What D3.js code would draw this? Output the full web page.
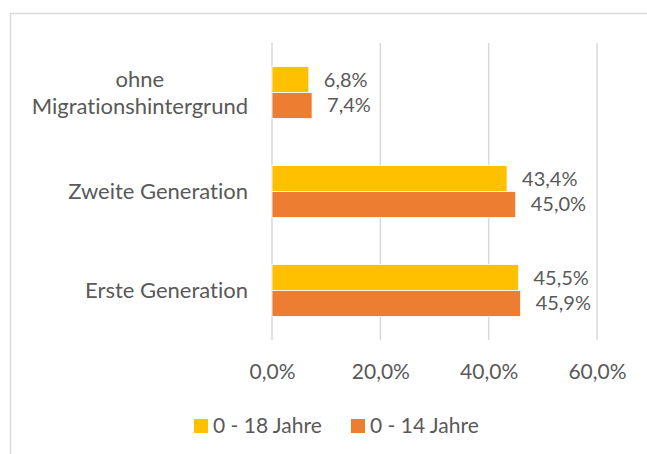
<!DOCTYPE html>
<html>
<head>
<meta charset="utf-8">
<script src="https://cdn.jsdelivr.net/npm/d3@7"></script>
<style>
  body { margin: 0; background: #fff; }
  text { font-family: Lato, "Open Sans", sans-serif; fill: #595959; font-variant-ligatures: none; }
</style>
</head>
<body>
<div id="chart"></div>
<script>
// data
const categories = ["ohne Migrationshintergrund", "Zweite Generation", "Erste Generation"];
const seriesNames = ["0 - 18 Jahre", "0 - 14 Jahre"];
const values0to18 = [6.8, 43.4, 45.5];
const values0to14 = [7.4, 45.0, 45.9];
const xTicks = [0, 20, 40, 60];

const colors = ["#FFC000", "#ED7D31"];
const W = 647, H = 454;
const fontSize = 21;

const locale = d3.formatLocale({ decimal: ",", thousands: ".", grouping: [3], currency: ["", "€"] });
const fmt1 = locale.format(".1f");

const rows = categories.map((c, i) => ({ cat: c, vals: [values0to18[i], values0to14[i]] }));

const svg = d3.select("#chart").append("svg")
    .attr("width", W)
    .attr("height", H);

svg.append("rect").attr("width", W).attr("height", H).attr("fill", "#fff");
// chart border (cut off at right and bottom like the picture)
svg.append("rect")
    .attr("x", 10.5).attr("y", 13.5)
    .attr("width", W + 20).attr("height", H + 20)
    .attr("fill", "none").attr("stroke", "#d9d9d9").attr("stroke-width", 1.5);

const x = d3.scaleLinear().domain([0, 60]).range([272, 597]);
const y = d3.scaleBand().domain(categories).range([43, 340])
    .paddingInner(0.475).paddingOuter(0.2375);
const ySub = d3.scaleBand().domain(seriesNames).range([0, y.bandwidth()]);

// gridlines
svg.append("g")
  .selectAll("line")
  .data(xTicks)
  .join("line")
    .attr("x1", d => x(d)).attr("x2", d => x(d))
    .attr("y1", 43).attr("y2", 340)
    .attr("stroke", "#d9d9d9").attr("stroke-width", 1.5);

// x axis labels
const xAxis = svg.append("g")
    .attr("transform", "translate(0,340)")
    .call(d3.axisBottom(x).tickValues(xTicks).tickSize(0).tickPadding(24)
      .tickFormat(d => fmt1(d) + "%"));
xAxis.select(".domain").remove();
xAxis.selectAll("text")
    .attr("fill", "#595959")
    .style("font-family", "Lato, sans-serif")
    .style("font-size", fontSize + "px");

// bars
const groups = svg.append("g")
  .selectAll("g")
  .data(rows)
  .join("g")
    .attr("transform", d => `translate(0,${y(d.cat)})`);

groups.selectAll("rect")
  .data(d => d.vals.map((v, i) => ({ v, s: seriesNames[i], i })))
  .join("rect")
    .attr("x", x(0))
    .attr("y", d => ySub(d.s))
    .attr("width", d => x(d.v) - x(0))
    .attr("height", ySub.bandwidth())
    .attr("fill", d => colors[d.i])
    .attr("stroke", "#fff")
    .attr("stroke-width", 0.8);

groups.selectAll("text")
  .data(d => d.vals.map((v, i) => ({ v, s: seriesNames[i] })))
  .join("text")
    .attr("x", d => x(d.v) + 15)
    .attr("y", d => ySub(d.s) + ySub.bandwidth() / 2)
    .attr("dy", "0.35em")
    .style("font-size", "20px")
    .text(d => fmt1(d.v) + "%");

// category labels
const catLabels = svg.append("g")
  .selectAll("text")
  .data(categories)
  .join("text")
    .attr("text-anchor", "middle")
    .style("font-size", "22px");

catLabels.each(function(d) {
  const t = d3.select(this);
  const lines = d === "ohne Migrationshintergrund" ? ["ohne", "Migrationshintergrund"] : [d];
  const cy = y(d) + y.bandwidth() / 2;
  const lh = 27;
  // measure widest line to right-align block
  t.selectAll("tspan").data(lines).join("tspan").text(l => l);
  let maxW = 0;
  t.selectAll("tspan").each(function() { maxW = Math.max(maxW, this.getComputedTextLength()); });
  const cx = 248 - maxW / 2;
  t.selectAll("tspan")
    .attr("x", cx)
    .attr("y", (l, i) => cy + (i - (lines.length - 1) / 2) * lh)
    .attr("dy", "0.35em");
});

// legend
const legend = svg.append("g")
  .selectAll("g")
  .data(seriesNames)
  .join("g")
    .attr("transform", (d, i) => `translate(${194 + i * 157},419)`);
legend.append("rect")
    .attr("width", 14).attr("height", 14)
    .attr("fill", (d, i) => colors[i]);
legend.append("text")
    .attr("x", 19).attr("y", 7).attr("dy", "0.35em")
    .style("font-size", fontSize + "px")
    .text(d => d);
</script>
</body>
</html>
